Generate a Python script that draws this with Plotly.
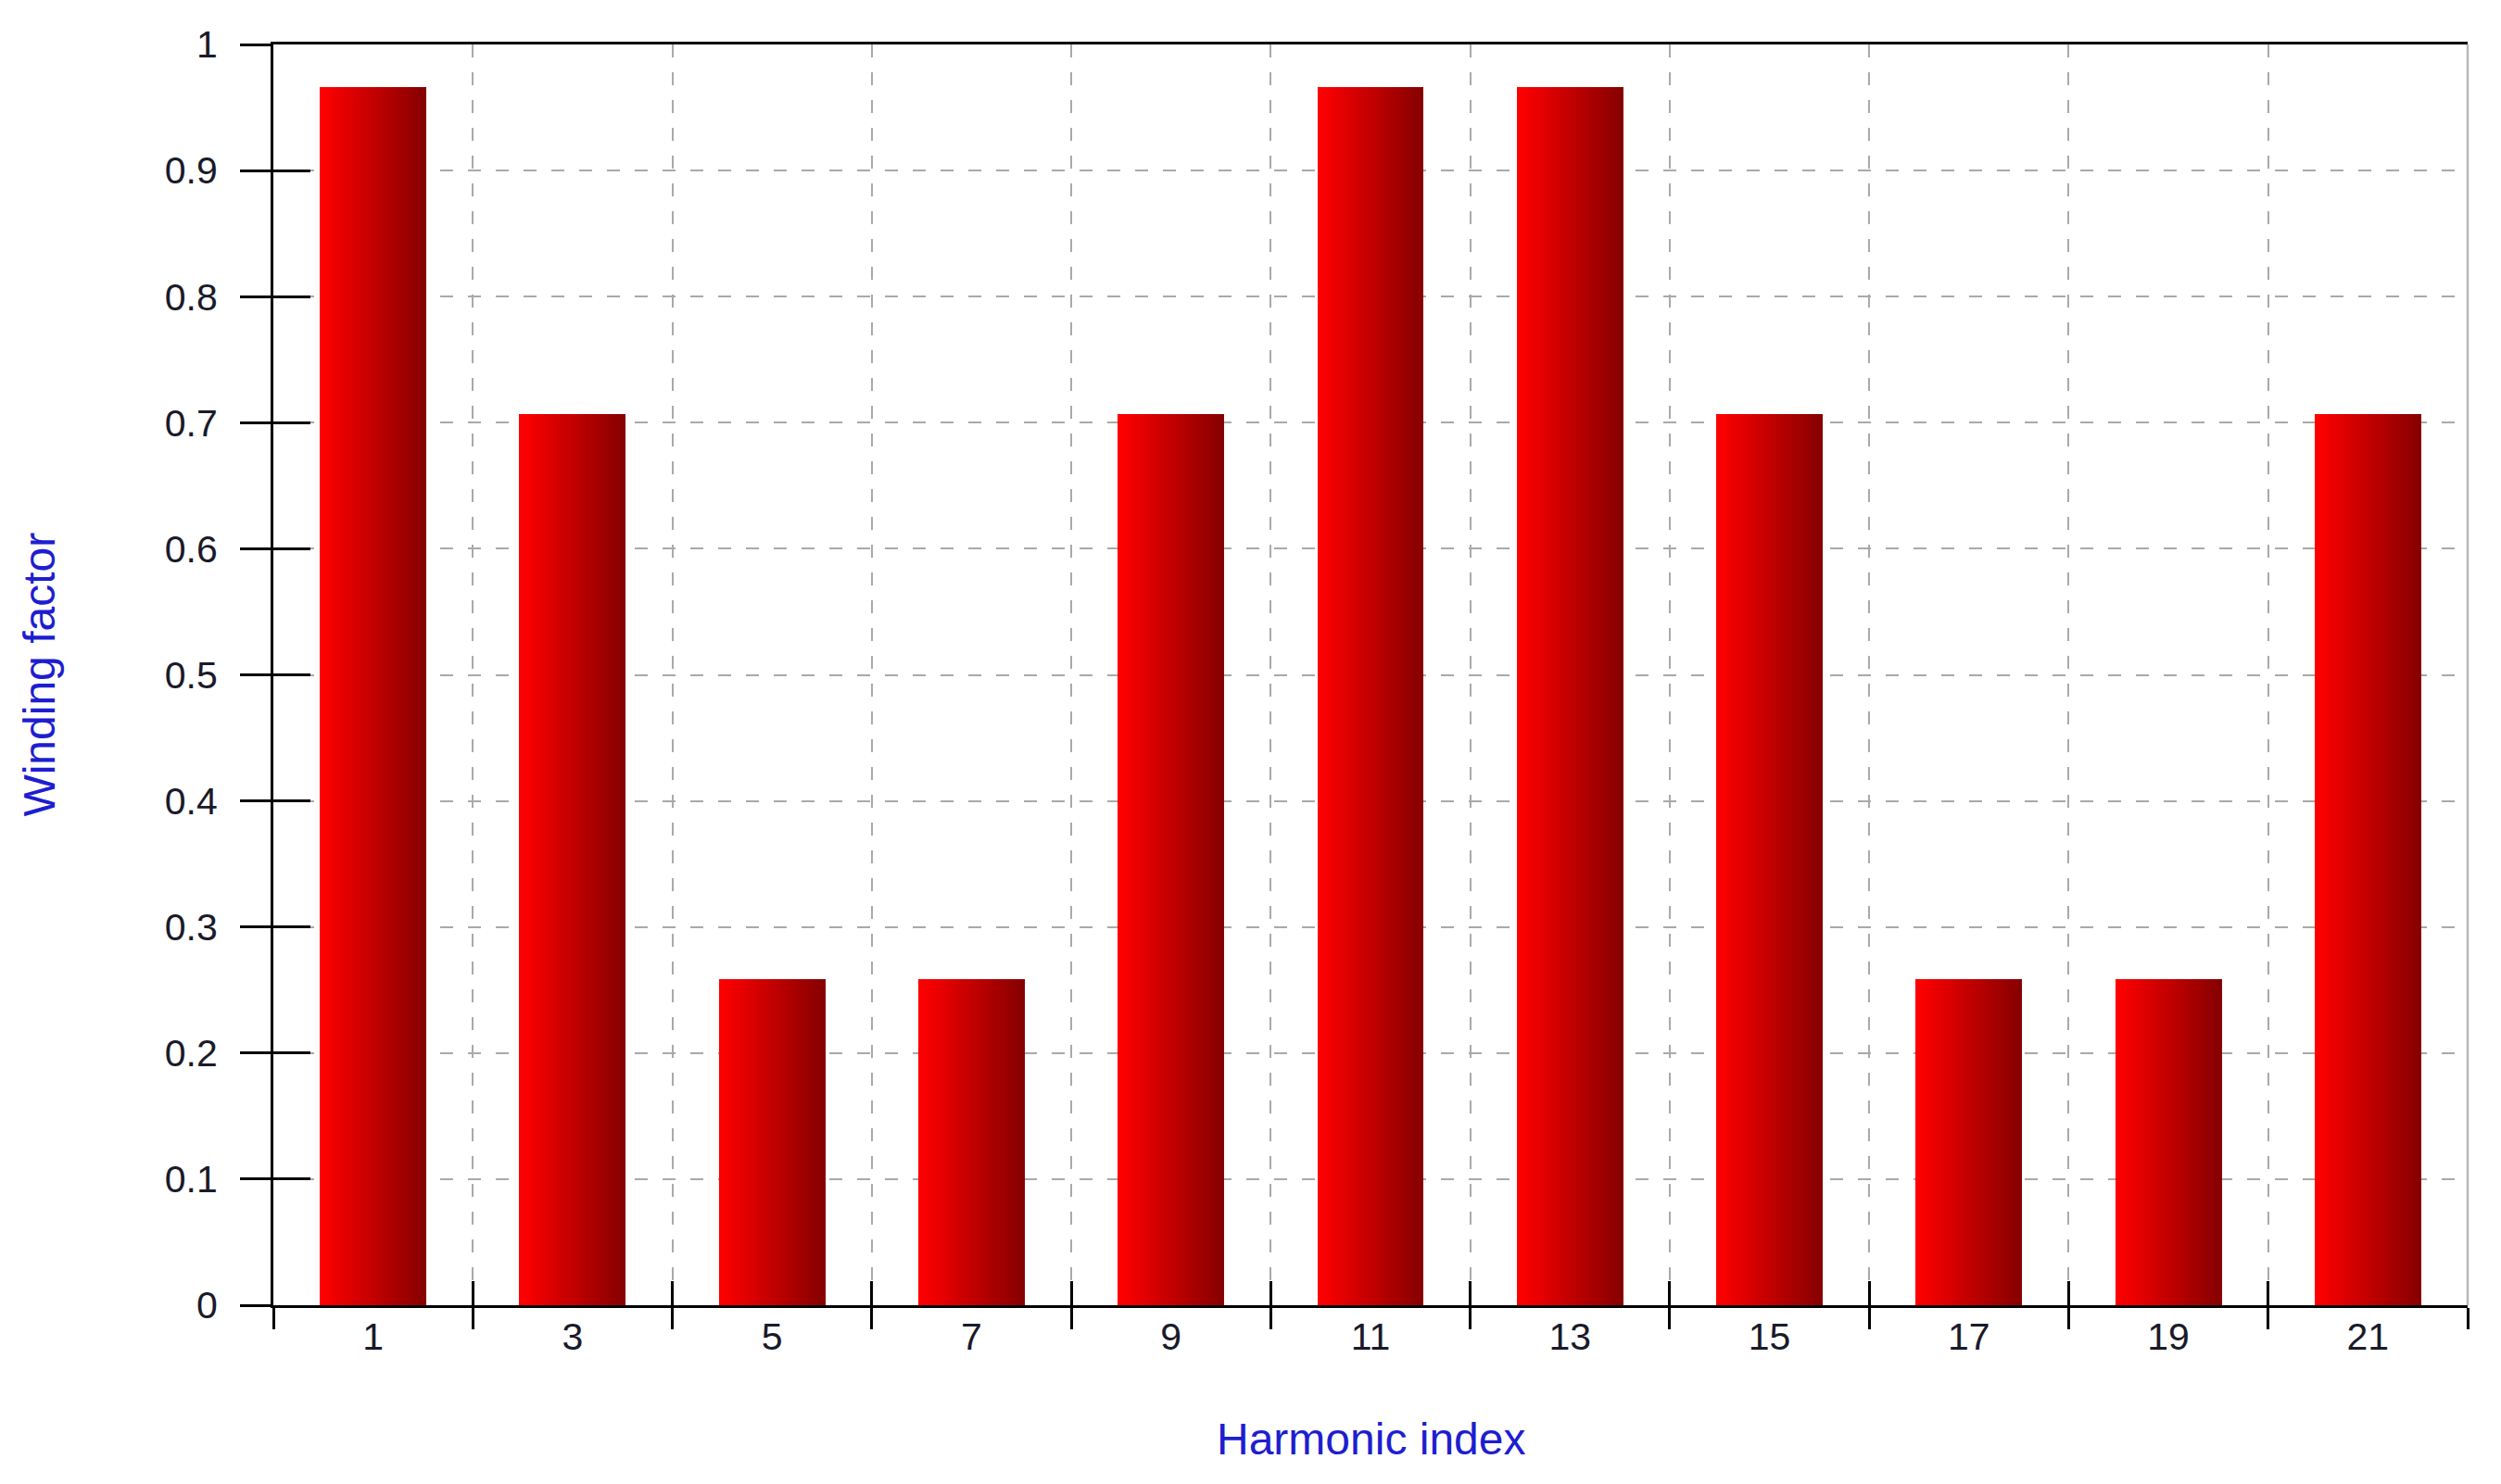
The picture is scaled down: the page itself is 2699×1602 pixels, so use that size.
import plotly.graph_objects as go

# ---- data ----
harmonics = ["1", "3", "5", "7", "9", "11", "13", "15", "17", "19", "21"]
winding_factor = [0.966, 0.707, 0.259, 0.259, 0.707, 0.966, 0.966, 0.707, 0.259, 0.259, 0.707]
y_ticks = [0, 0.1, 0.2, 0.3, 0.4, 0.5, 0.6, 0.7, 0.8, 0.9, 1]
x_title = "Harmonic index"
y_title = "Winding factor"

# ---- style ----
W, H = 2683, 1586          # page body keeps an 8px margin
BAR_W = 0.534
N_SLICES = 30
c_left = (255, 0, 0)
c_right = (135, 0, 0)
FONT = "Liberation Sans, Arial, sans-serif"
GRID = "#a9a9a9"
TITLE_BLUE = "#1e1ecf"
LABEL_COL = "#1a1a2a"

fig = go.Figure()

slice_w = BAR_W / N_SLICES
for i in range(N_SLICES):
    t = i / (N_SLICES - 1)
    col = tuple(round(a + (b - a) * t) for a, b in zip(c_left, c_right))
    fig.add_trace(go.Bar(
        x=harmonics, y=winding_factor,
        width=slice_w * (1.15 if i < N_SLICES - 1 else 1.0),
        offset=-BAR_W / 2 + i * slice_w,
        marker=dict(color="rgb(%d,%d,%d)" % col, line=dict(width=0)),
        showlegend=False, hoverinfo="skip" if i else "x+y",
    ))

# helper trace on overlay axes (for crossing tick marks)
fig.add_trace(go.Scatter(x=harmonics, y=winding_factor, xaxis="x2", yaxis="y2",
                         mode="markers", marker=dict(opacity=0), showlegend=False,
                         hoverinfo="skip"))

fig.update_layout(
    width=W, height=H,
    margin=dict(l=287, r=28, t=40, b=185),
    paper_bgcolor="white", plot_bgcolor="white",
    barmode="overlay", bargap=0,
    font=dict(family=FONT, size=41, color=LABEL_COL),
    xaxis=dict(
        type="category", categoryarray=harmonics, range=[-0.5, 10.5],
        tickson="boundaries", ticks="outside", ticklen=23, tickwidth=2.5, tickcolor="black",
        showline=True, linecolor="black", linewidth=3, mirror=True,
        showgrid=True, gridcolor=GRID, gridwidth=2, griddash="14px,16px",
        zeroline=False, automargin=False, ticklabelstandoff=-4,
        tickfont=dict(size=41, color=LABEL_COL),
    ),
    xaxis2=dict(
        type="category", categoryarray=harmonics, range=[-0.5, 10.5], overlaying="x",
        side="bottom", tickson="boundaries", ticks="inside", ticklen=26, tickwidth=2.5,
        tickcolor="black", showticklabels=False, showgrid=False, showline=False, zeroline=False,
        automargin=False,
    ),
    yaxis=dict(
        range=[0, 1], tickvals=y_ticks, ticks="outside", ticklen=33, tickwidth=2.5,
        tickcolor="black", showline=True, linecolor="black", linewidth=3,
        showgrid=True, gridcolor=GRID, gridwidth=2, griddash="14px,16px",
        zeroline=False, automargin=False, ticklabelstandoff=16,
        tickfont=dict(size=41, color=LABEL_COL),
    ),
    yaxis2=dict(
        range=[0, 1], tickvals=y_ticks, overlaying="y", side="left",
        ticks="inside", ticklen=40, tickwidth=2.5, tickcolor="black",
        showticklabels=False, showgrid=False, showline=False, zeroline=False,
        automargin=False,
    ),
    shapes=[dict(type="line", xref="paper", yref="paper", x0=1, x1=1, y0=0, y1=1,
                 line=dict(color="#b8b8b8", width=2.5))],
    annotations=[
        dict(text=x_title, xref="paper", yref="paper", x=0.5, y=-0.1065,
             xanchor="center", yanchor="middle", showarrow=False,
             font=dict(size=48, color=TITLE_BLUE)),
        dict(text=y_title, xref="paper", yref="paper", x=-0.1068, y=0.5,
             xanchor="center", yanchor="middle", showarrow=False, textangle=-90,
             font=dict(size=48, color=TITLE_BLUE)),
    ],
)

fig.write_html("out.html")
